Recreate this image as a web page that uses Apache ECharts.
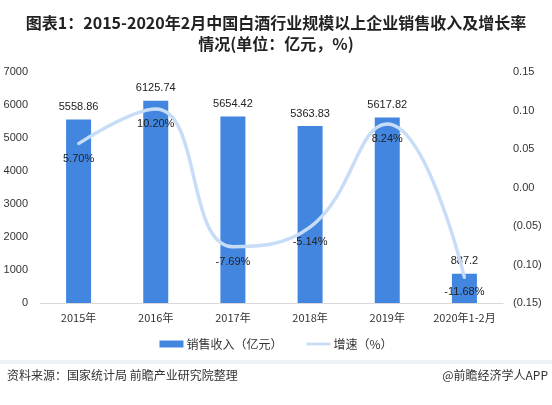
<!DOCTYPE html>
<html><head><meta charset="utf-8">
<script src="https://cdn.jsdelivr.net/npm/echarts@6/dist/echarts.min.js"></script>
<style>html,body{margin:0;padding:0;background:#fff}#c{width:552px;height:405px}</style>
</head><body><div id="c"></div>
<script>
const categories = ['2015年','2016年','2017年','2018年','2019年','2020年1-2月'];
const revenue = [5558.86, 6125.74, 5654.42, 5363.83, 5617.82, 887.2];
const growth = [0.057, 0.102, -0.0769, -0.0514, 0.0824, -0.1168];
const leftTicks = [0, 7000, 1000];
const rightTicks = [-0.15, 0.15, 0.05];

const chart = echarts.init(document.getElementById('c'));
const font = '"Microsoft YaHei","Noto Sans CJK SC",sans-serif';
const numFont = '"Liberation Sans",Arial,"Noto Sans CJK SC",sans-serif';
chart.setOption({
  animation: false,
  title: {
    text: '图表1：2015-2020年2月中国白酒行业规模以上企业销售收入及增长率\n情况(单位：亿元，%)',
    left: 'center', top: 7,
    textStyle: {fontSize: 16, fontWeight: 'bold', color: '#222', lineHeight: 21, fontFamily: font}
  },
  grid: {left: 40, right: 49, top: 72, bottom: 102},
  legend: {
    bottom: 50, left: 'center', itemGap: 24, itemWidth: 24, itemHeight: 7,
    textStyle: {fontSize: 12, color: '#333', fontFamily: font, padding: [0, 0, 0, -2]},
    data: [{name: '销售收入（亿元）', icon: 'rect'}, {name: '增速（%）', icon: 'path://M0,0H26V3H0Z'}]
  },
  xAxis: {
    type: 'category', data: categories,
    axisLine: {lineStyle: {color: '#d9d9d9'}}, axisTick: {show: false},
    axisLabel: {color: '#333', fontSize: 11, margin: 9, interval: 0, fontFamily: font}
  },
  yAxis: [{
    type: 'value', min: leftTicks[0], max: leftTicks[1], interval: leftTicks[2],
    splitLine: {show: false}, axisLine: {show: false}, axisTick: {show: false},
    axisLabel: {color: '#333', fontSize: 11, margin: 12, fontFamily: numFont, formatter: v => String(v)}
  }, {
    type: 'value', min: rightTicks[0], max: rightTicks[1], interval: rightTicks[2],
    splitLine: {show: false}, axisLine: {show: false}, axisTick: {show: false},
    axisLabel: {color: '#333', fontSize: 11, margin: 10, fontFamily: numFont,
      formatter: v => { const s = Math.abs(v).toFixed(2); return v < -1e-9 ? '(' + s + ')' : s; }}
  }],
  series: [{
    name: '销售收入（亿元）', type: 'bar', data: revenue, barWidth: 25,
    itemStyle: {color: '#4286e0'},
    label: {show: true, position: 'top', color: '#222', fontSize: 11, fontFamily: numFont, distance: 7}
  }, {
    name: '增速（%）', type: 'line', yAxisIndex: 1, data: growth, smooth: 0.45, smoothMonotone: 'none',
    symbol: 'circle', symbolSize: 3,
    lineStyle: {color: '#c6dcf7', width: 3.5}, itemStyle: {color: '#c6dcf7'},
    label: {show: true, position: 'bottom', distance: 8, color: '#222', fontSize: 11, fontFamily: numFont,
      formatter: p => (p.value * 100).toFixed(2) + '%'}
  }],
  graphic: [
    {type: 'rect', shape: {x: 0, y: 360, width: 552, height: 4}, style: {fill: '#eef1f6'}},
    {type: 'text', left: 7, top: 369, style: {text: '资料来源：国家统计局 前瞻产业研究院整理', fontSize: 12, fill: '#333', fontFamily: font}},
    {type: 'text', right: 4, top: 369, style: {text: '@前瞻经济学人APP', fontSize: 12, fill: '#333', fontFamily: font}}
  ]
});
</script></body></html>
